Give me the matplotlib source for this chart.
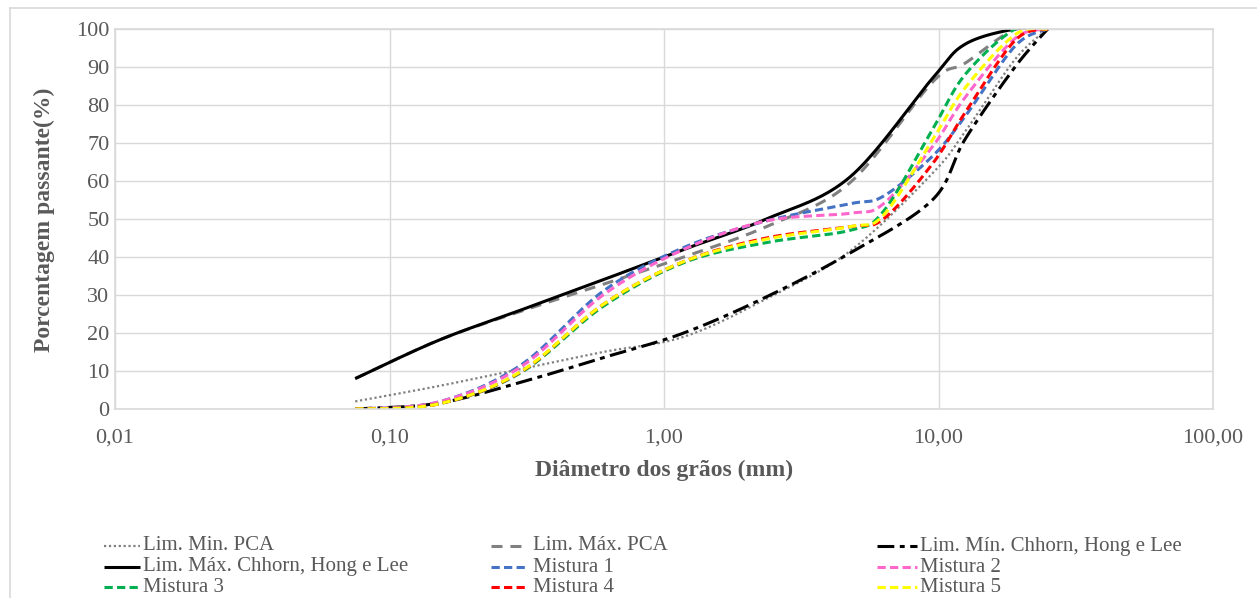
import numpy as np
import matplotlib
matplotlib.use("Agg")
import matplotlib.pyplot as plt
from matplotlib.lines import Line2D

# ---------------- data ----------------
sieves_lim = [0.075, 0.15, 0.3, 0.6, 1.18, 2.36, 4.75, 9.5, 12.5, 19, 25]
sieves_mix = [0.075, 0.15, 0.3, 0.6, 1.18, 2.36, 4.75, 6.3, 9.5, 12.5, 19, 25]

lim_min_pca = [2, 6, 10.5, 15, 19, 29, 41.5, 62, 73, 92, 100]
lim_max_pca = [8, 18, 25.7, 32.8, 40, 48, 59.5, 86, 91, 100, 100]
lim_min_chhorn = [0, 1.5, 7, 13.5, 20, 29.5, 41, 55, 71, 90, 100]
lim_max_chhorn = [8, 18, 26, 34, 42, 50, 61, 87, 96, 100, 100]

mistura1 = [0, 1.8, 11.5, 31, 42.5, 49.5, 54, 56, 66.5, 77, 95.5, 100]
mistura2 = [0, 1.8, 11, 30, 42, 49.5, 51.5, 54, 69, 82, 97.5, 100]
mistura3 = [0, 1.3, 9.5, 27, 38.5, 43.8, 47, 52, 73.5, 88, 100, 100]
mistura4 = [0, 1.3, 9.7, 27.5, 38.8, 45, 48, 50, 64.5, 78, 97, 100]
mistura5 = [0, 1.3, 9.8, 27.5, 38.8, 44.7, 48, 51, 70.8, 84.5, 98.5, 100]

labels = ["Lim. Min. PCA", "Lim. Máx. PCA", "Lim. Mín. Chhorn, Hong e Lee",
          "Lim. Máx. Chhorn, Hong e Lee", "Mistura 1", "Mistura 2",
          "Mistura 3", "Mistura 4", "Mistura 5"]
x_ticks = [0.01, 0.1, 1, 10, 100]
x_ticklabels = ["0,01", "0,10", "1,00", "10,00", "100,00"]
y_ticks = list(range(0, 101, 10))

# ---------------- styles ----------------
styles = [
    dict(color="#808080", lw=1.6, dashes=(1, 1.2)),
    dict(color="#808080", lw=2.2, dashes=(3.6, 2.6)),
    dict(color="#000000", lw=2.2, dashes=(5.5, 1.8, 1.6, 1.8)),
    dict(color="#000000", lw=2.2, dashes=()),
    dict(color="#4472C4", lw=2.2, dashes=(2.7, 1.4)),
    dict(color="#FF66CC", lw=2.2, dashes=(2.7, 1.4)),
    dict(color="#00B050", lw=2.2, dashes=(2.7, 1.4)),
    dict(color="#FF0000", lw=2.2, dashes=(2.7, 1.4)),
    dict(color="#FFFF00", lw=2.2, dashes=(2.7, 1.4)),
]
series = [(sieves_lim, lim_min_pca), (sieves_lim, lim_max_pca),
          (sieves_lim, lim_min_chhorn), (sieves_lim, lim_max_chhorn),
          (sieves_mix, mistura1), (sieves_mix, mistura2), (sieves_mix, mistura3),
          (sieves_mix, mistura4), (sieves_mix, mistura5)]


def smooth(xs, ys, n=40):
    """Excel-like smoothed line (Catmull-Rom Bezier) in log-x space."""
    lx = np.log10(np.asarray(xs, float))
    y = np.asarray(ys, float)
    P = np.column_stack([lx, y])
    out = []
    m = len(P)
    t = np.linspace(0, 1, n)[:, None]
    for i in range(m - 1):
        p0 = P[max(i - 1, 0)]
        p1 = P[i]
        p2 = P[i + 1]
        p3 = P[min(i + 2, m - 1)]
        c1 = p1 + (p2 - p0) / 6.0
        c2 = p2 - (p3 - p1) / 6.0
        seg = ((1 - t) ** 3) * p1 + 3 * ((1 - t) ** 2) * t * c1 + 3 * (1 - t) * t ** 2 * c2 + t ** 3 * p2
        out.append(seg if i == 0 else seg[1:])
    out = np.vstack(out)
    return 10 ** out[:, 0], out[:, 1]


W, H = 1257, 598
fig = plt.figure(figsize=(W / 100, H / 100), dpi=100)
ax = fig.add_axes([115 / W, 1 - 409 / H, (1213 - 115) / W, (409 - 29) / H])

serif = "Liberation Serif"
txtcol = "#595959"

for (xs, ys), st in zip(series, styles):
    sx, sy = smooth(xs, ys)
    ln, = ax.plot(sx, sy, color=st["color"], lw=st["lw"], solid_capstyle="butt",
                  dash_capstyle="butt")
    if st["dashes"]:
        ln.set_dashes(st["dashes"])

ax.set_xscale("log")
ax.set_xlim(0.01, 100)
ax.set_ylim(0, 100)
ax.set_xticks(x_ticks)
ax.set_xticklabels(x_ticklabels)
ax.set_yticks(y_ticks)
ax.minorticks_off()
ax.tick_params(length=0, labelsize=16, labelcolor=txtcol)
ax.tick_params(axis="x", pad=14)
ax.tick_params(axis="y", pad=4)
for lab in ax.get_xticklabels() + ax.get_yticklabels():
    lab.set_fontfamily(serif)
ax.grid(True, color="#d9d9d9", lw=1)
ax.set_axisbelow(True)
for sp in ax.spines.values():
    sp.set_color("#d9d9d9")
    sp.set_linewidth(1.2)

fig.text(664 / W, 1 - 470 / H, "Diâmetro dos grãos (mm)", ha="center", va="center",
         fontsize=17, fontweight="bold", family=serif, color=txtcol)
fig.text(44 / W, 1 - 220 / H, "Porcentagem passante(%)", ha="center", va="center",
         rotation=90, fontsize=17, fontweight="bold", family=serif, color=txtcol)

# outer chart border (left and top visible)
fig.add_artist(Line2D([10 / W, 10 / W], [0, 1 - 8 / H], transform=fig.transFigure,
                      color="#d9d9d9", lw=1.2))
fig.add_artist(Line2D([10 / W, 1], [1 - 8 / H, 1 - 8 / H], transform=fig.transFigure,
                      color="#d9d9d9", lw=1.2))

# legend, row-major, 3 columns
col_handles = [(104, 140, 143), (491, 527, 533), (877, 917, 920)]
row_y = [546, 567, 587]
for i, (lab, st) in enumerate(zip(labels, styles)):
    r, c = divmod(i, 3)
    x0, x1, xt = col_handles[c]
    yy = 1 - row_y[r] / H
    ln = Line2D([x0 / W, x1 / W], [yy, yy], transform=fig.transFigure,
                color=st["color"], lw=st["lw"], solid_capstyle="butt", dash_capstyle="butt")
    if st["dashes"]:
        ln.set_dashes(st["dashes"])
    fig.add_artist(ln)
    fig.text(xt / W, yy, lab, ha="left", va="center", fontsize=15, family=serif,
             color=txtcol)

fig.savefig("out.png", dpi=100)
